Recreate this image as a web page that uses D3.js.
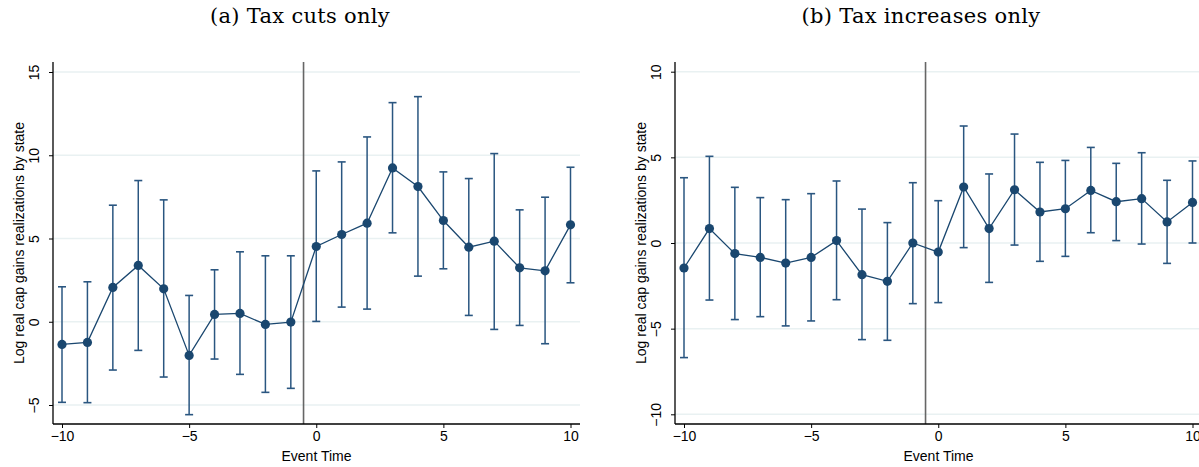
<!DOCTYPE html>
<html>
<head>
<meta charset="utf-8">
<script src="https://cdn.jsdelivr.net/npm/d3@7"></script>
<style>
  body { margin: 0; background: #fff; }
  svg { display: block; }
</style>
</head>
<body>
<svg id="chart" width="1199" height="467"></svg>
<script>
// event time, shared by both panels
var eventTime = [-10, -9, -8, -7, -6, -5, -4, -3, -2, -1, 0, 1, 2, 3, 4, 5, 6, 7, 8, 9, 10];

// (a) tax cuts only
var cutsCoef  = [-1.36, -1.24, 2.06, 3.38, 1.98, -2.02, 0.44, 0.50, -0.16, -0.02, 4.52, 5.24, 5.92, 9.24, 8.12, 6.08, 4.48, 4.84, 3.24, 3.06, 5.82];
var cutsHigh  = [2.10, 2.40, 7.00, 8.48, 7.32, 1.58, 3.12, 4.20, 3.96, 3.96, 9.06, 9.60, 11.10, 13.16, 13.52, 9.00, 8.60, 10.10, 6.72, 7.48, 9.28];
var cutsLow   = [-4.84, -4.86, -2.90, -1.72, -3.32, -5.58, -2.24, -3.16, -4.24, -4.00, 0.02, 0.88, 0.76, 5.34, 2.74, 3.18, 0.38, -0.46, -0.22, -1.32, 2.34];

// (b) tax increases only
var incCoef   = [-1.46, 0.84, -0.62, -0.84, -1.17, -0.84, 0.14, -1.85, -2.24, 0.00, -0.53, 3.27, 0.84, 3.11, 1.81, 2.00, 3.07, 2.41, 2.59, 1.23, 2.37];
var incHigh   = [3.81, 5.06, 3.25, 2.65, 2.53, 2.88, 3.62, 1.98, 1.19, 3.52, 2.47, 6.83, 4.03, 6.36, 4.71, 4.82, 5.58, 4.65, 5.27, 3.66, 4.79];
var incLow    = [-6.69, -3.33, -4.47, -4.30, -4.84, -4.55, -3.31, -5.64, -5.68, -3.54, -3.48, -0.27, -2.30, -0.12, -1.07, -0.78, 0.60, 0.14, -0.06, -1.19, 0.00];

var xTicks = [-10, -5, 0, 5, 10];
var cutsYTicks = [-5, 0, 5, 10, 15];
var incYTicks = [-10, -5, 0, 5, 10];
var eventLine = -0.5;

var navy = '#1a476f';

const svg = d3.select('#chart');

function drawPanel(opts) {
    const g = svg.append('g').attr('transform', 'translate(' + opts.left + ',0)');
    const plotW = opts.width;
    const top = 62, bottom = 424;

    // x: -10..10 sits 9px in from the left edge of the plot region
    let x = d3.scaleLinear().domain([-10, 10]).range([9, 9 + 508.5]);
    let y = d3.scaleLinear().domain(opts.yDomain).range(opts.yRange);

    const rows = eventTime.map(function (t, i) {
        return { t: t, b: opts.coef[i], hi: opts.high[i], lo: opts.low[i] };
    });

    // subfigure caption (centred on the whole subfigure, not the plot)
    svg.append('text')
        .attr('x', opts.titleX)
        .attr('y', 23)
        .attr('text-anchor', 'middle')
        .style('font-family', '"DejaVu Serif", "Liberation Serif", serif')
        .style('font-size', '21px')
        .style('letter-spacing', '0.3px')
        .text(opts.title);

    // gridlines
    g.selectAll('.grid')
        .data(opts.yTicks)
        .enter()
        .append('line')
        .attr('x1', 0)
        .attr('x2', plotW)
        .attr('y1', d => y(d))
        .attr('y2', d => y(d))
        .style('stroke', '#e9f1f2')
        .style('stroke-width', 1.5);

    // event line
    g.append('line')
        .attr('x1', x(eventLine)).attr('x2', x(eventLine))
        .attr('y1', top).attr('y2', bottom)
        .style('stroke', '#666')
        .style('stroke-width', 1.6);

    // error bars
    g.selectAll('.ci')
        .data(rows)
        .enter()
        .append('line')
        .attr('x1', d => x(d.t)).attr('x2', d => x(d.t))
        .attr('y1', d => y(d.hi)).attr('y2', d => y(d.lo))
        .style('stroke', '#2a5680')
        .style('stroke-width', 1.5);

    ['hi', 'lo'].forEach(function (k) {
        g.selectAll('.cap-' + k)
            .data(rows)
            .enter()
            .append('line')
            .attr('x1', d => x(d.t) - 4).attr('x2', d => x(d.t) + 4)
            .attr('y1', d => y(d[k])).attr('y2', d => y(d[k]))
            .style('stroke', '#2a5680')
            .style('stroke-width', 1.6);
    });

    // connecting line
    g.append('path')
        .datum(rows)
        .attr('d', d3.line().x(d => x(d.t)).y(d => y(d.b)))
        .style('fill', 'none')
        .style('stroke', navy)
        .style('stroke-width', 1.3);

    g.selectAll('.pt')
        .data(rows)
        .enter()
        .append('circle')
        .attr('cx', d => x(d.t))
        .attr('cy', d => y(d.b))
        .attr('r', 4.6)
        .style('fill', navy);

    // axes
    let axisBottom = d3.axisBottom(x).tickValues(xTicks).tickSize(4).tickPadding(3).tickFormat(d3.format('d'));
    let ax = g.append('g').attr('transform', 'translate(0,' + bottom + ')').call(axisBottom);
    ax.select('.domain').attr('d', 'M0,0H' + plotW).style('stroke', '#000').style('stroke-width', 1.3);

    let axisLeft = d3.axisLeft(y).tickValues(opts.yTicks).tickSize(4).tickFormat(d3.format('d'));
    let ay = g.append('g').call(axisLeft);
    ay.select('.domain').attr('d', 'M0,' + top + 'V' + bottom).style('stroke', '#000').style('stroke-width', 1.3);
    ay.selectAll('.tick text')
        .attr('x', null).attr('dy', null)
        .attr('text-anchor', 'middle')
        .attr('transform', 'translate(-14,0) rotate(-90)');

    [ax, ay].forEach(function (a) {
        a.selectAll('.tick text')
            .style('font-family', '"Liberation Sans", Arial, sans-serif')
            .style('font-size', '14px')
            .style('fill', '#000');
        a.selectAll('.tick line').style('stroke', '#000');
    });

    // axis titles
    g.append('text')
        .attr('x', plotW / 2)
        .attr('y', 461)
        .attr('text-anchor', 'middle')
        .style('font-family', '"Liberation Sans", Arial, sans-serif')
        .style('font-size', '14px')
        .text('Event Time');

    g.append('text')
        .attr('transform', 'translate(-29,' + ((top + bottom) / 2) + ') rotate(-90)')
        .attr('text-anchor', 'middle')
        .style('font-family', '"Liberation Sans", Arial, sans-serif')
        .style('font-size', '14px')
        .text('Log real cap gains realizations by state');
}

drawPanel({
    left: 53, width: 527, titleX: 300,
    title: '(a) Tax cuts only',
    coef: cutsCoef, high: cutsHigh, low: cutsLow,
    yDomain: [-5, 15], yRange: [405, 72],
    yTicks: cutsYTicks
});

drawPanel({
    left: 675, width: 527, titleX: 921,
    title: '(b) Tax increases only',
    coef: incCoef, high: incHigh, low: incLow,
    yDomain: [-10, 10], yRange: [414.3, 71.7],
    yTicks: incYTicks
});
</script>
</body>
</html>
